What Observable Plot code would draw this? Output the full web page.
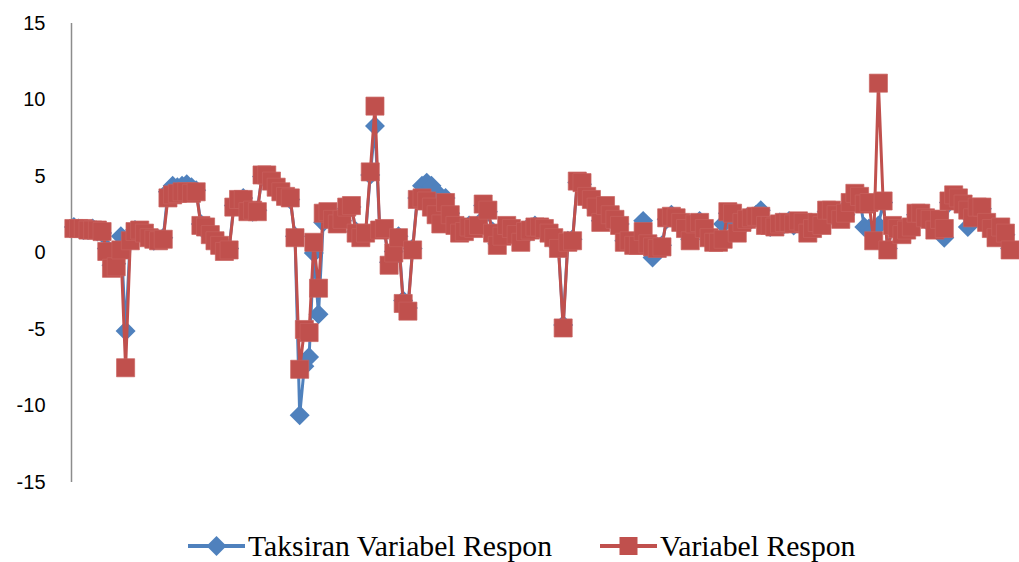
<!DOCTYPE html>
<html>
<head>
<meta charset="utf-8">
<script src="https://cdn.jsdelivr.net/npm/d3@7"></script>
<script src="https://cdn.jsdelivr.net/npm/@observablehq/plot@0.6"></script>
<style>
  html, body { margin: 0; padding: 0; background: #fff; }
  #chart { width: 1019px; height: 562px; position: relative; overflow: hidden; }
  #chart > svg { display: block; }
  .legend {
    display: flex; align-items: center; gap: 48px;
    margin-left: 188px; margin-top: 1px; height: 30px; line-height: 30px;
    font-family: "Liberation Serif", "Times New Roman", serif;
    font-size: 29.7px; color: #000;
  }
  .legend .item { display: flex; align-items: center; height: 30px; }
  .legend svg { display: block; margin-right: 3px; }
</style>
</head>
<body>
<div id="chart"></div>
<script>
// Series names
const seriesNames = ["Taksiran Variabel Respon", "Variabel Respon"];
const seriesColors = ["#4F81BD", "#C0504D"];

// Observed response (Variabel Respon), one value per observation
const observed = [
  1.6, 1.6, 1.6, 1.5, 1.5, 1.5, 1.4, 0.1, -1.0, -0.9,
  0.2, -7.5, 0.8, 1.4, 1.5, 1.3, 1.0, 0.9, 0.8, 0.9,
  3.6, 3.8, 3.9, 4.0, 4.0, 3.9, 4.0, 1.8, 1.7, 1.2,
  0.8, 0.5, 0.1, 0.2, 3.0, 3.5, 3.5, 2.7, 2.8, 2.7,
  5.1, 5.1, 4.7, 4.3, 4.0, 3.7, 3.6, 1.0, -7.6, -5.0,
  -5.2, 0.7, -2.3, 2.6, 2.7, 2.2, 1.9, 2.2, 3.0, 3.1,
  1.3, 1.0, 1.3, 5.3, 9.6, 1.5, 1.6, -0.8, 0.0, 1.0,
  -3.3, -3.8, 0.2, 3.5, 3.6, 3.4, 3.0, 2.5, 1.9, 3.3,
  2.5, 1.8, 1.3, 1.4, 1.7, 1.6, 1.8, 3.2, 2.8, 1.3,
  0.5, 1.1, 1.8, 1.6, 1.2, 0.7, 1.4, 1.5, 1.7, 1.7,
  1.6, 1.3, 1.0, 0.3, -4.9, 0.7, 0.8, 4.7, 4.6, 3.7,
  3.5, 3.0, 2.0, 3.1, 2.5, 2.2, 1.8, 0.7, 0.8, 0.5,
  0.5, 1.4, 0.6, 0.4, 0.3, 0.4, 2.3, 2.4, 2.3, 2.0,
  1.6, 0.8, 1.9, 2.0, 1.6, 1.0, 0.7, 0.7, 0.9, 2.7,
  2.6, 1.3, 2.0, 2.2, 2.3, 2.4, 2.4, 1.8, 1.8, 1.7,
  1.9, 2.0, 2.0, 1.9, 2.1, 2.0, 1.3, 1.6, 2.0, 1.8,
  2.8, 2.8, 2.5, 2.2, 2.6, 3.3, 3.9, 3.7, 3.2, 3.3,
  0.8, 11.1, 3.4, 0.2, 1.8, 1.6, 1.2, 1.5, 1.7, 2.6,
  2.6, 2.3, 2.2, 1.5, 2.2, 1.6, 3.4, 3.8, 3.6, 3.2,
  2.8, 2.3, 3.0, 3.0, 2.0, 1.6, 1.0, 1.7, 1.3, 0.2
];

// Fitted response (Taksiran Variabel Respon)
const fitted = [
  1.7, 1.6, 1.5, 1.5, 1.6, 1.4, 1.3, 0.3, -0.8, -0.7,
  1.1, -5.1, 1.0, 1.5, 1.4, 1.2, 1.1, 0.8, 0.9, 1.0,
  4.0, 4.4, 4.3, 4.4, 4.5, 4.3, 4.1, 1.9, 1.6, 1.1,
  0.9, 0.4, 0.2, 0.3, 3.1, 3.4, 3.6, 2.8, 2.7, 2.8,
  5.0, 5.0, 4.6, 4.4, 3.9, 3.8, 3.5, 1.1, -10.6, -7.4,
  -6.8, 0.0, -4.0, 2.0, 2.6, 2.3, 2.0, 2.1, 2.9, 3.0,
  1.4, 1.1, 1.2, 5.1, 8.3, 1.6, 1.5, -0.6, 0.1, 1.1,
  -3.1, -3.6, 0.3, 3.6, 4.4, 4.6, 4.4, 4.0, 3.5, 3.6,
  2.6, 1.9, 1.4, 1.5, 1.8, 1.7, 1.9, 3.1, 2.7, 1.4,
  0.6, 1.2, 1.7, 1.5, 1.3, 0.8, 1.5, 1.6, 1.8, 1.6,
  1.5, 1.4, 1.1, 0.4, -4.7, 0.8, 0.9, 4.6, 4.5, 3.8,
  3.4, 2.9, 2.1, 3.0, 2.4, 2.1, 1.9, 0.8, 0.7, 0.6,
  0.6, 2.1, 0.7, -0.3, 0.4, 0.5, 2.2, 2.5, 2.2, 1.9,
  1.7, 0.9, 1.8, 2.1, 1.5, 1.1, 0.8, 0.8, 1.9, 2.6,
  2.5, 1.4, 1.9, 2.3, 2.2, 2.5, 2.8, 1.9, 1.7, 1.8,
  2.0, 1.9, 2.1, 1.8, 2.0, 1.9, 1.4, 1.7, 1.9, 1.9,
  2.7, 2.7, 2.4, 2.3, 2.5, 3.2, 3.8, 3.6, 1.7, 1.6,
  1.5, 1.8, 3.3, 0.3, 1.7, 1.5, 1.3, 1.6, 1.8, 2.5,
  2.5, 2.2, 2.1, 1.6, 2.1, 1.0, 3.3, 3.7, 3.5, 3.1,
  1.7, 2.2, 2.9, 2.9, 1.9, 1.5, 1.1, 1.6, 1.2, 0.3
];

// Value-axis ticks
const yTicks = [-15, -10, -5, 0, 5, 10, 15];

const X = (d, i) => i;
const Y = (d) => d;

const svg = Plot.plot({
  width: 1019,
  height: 530,
  marginLeft: 71,
  marginRight: 7,
  marginTop: 23,
  marginBottom: 48,
  style: { background: "white", color: "#000", fontFamily: "'Liberation Sans', Arial, sans-serif", fontSize: "20px" },
  x: { domain: [-0.5, observed.length - 0.5], axis: null },
  y: { domain: [-15, 15], axis: null },
  marks: [
    Plot.axisY({ ticks: yTicks, tickSize: 0, tickPadding: 26, tickFormat: d => String(d), label: null, fontSize: 20 }),
    Plot.ruleX([-0.5], { stroke: "#8c8c8c", strokeWidth: 1.5 }),
    Plot.line(fitted, { x: X, y: Y, stroke: seriesColors[0], strokeWidth: 3, curve: "linear" }),
    Plot.dot(fitted, { x: X, y: Y, symbol: "diamond2", r: 9, fill: seriesColors[0] }),
    Plot.line(observed, { x: X, y: Y, stroke: seriesColors[1], strokeWidth: 3, curve: "linear" }),
    Plot.dot(observed, { x: X, y: Y, symbol: "square", r: 10.2, fill: seriesColors[1], stroke: "#c9615e", strokeWidth: 0.7 })
  ]
});

const chart = document.getElementById("chart");
chart.appendChild(svg);

// Legend below the plot: line swatch with the series marker, then the name
const legend = document.createElement("div");
legend.className = "legend";
seriesNames.forEach((name, k) => {
  const item = document.createElement("div");
  item.className = "item";
  const marker = k === 0
    ? `<path d="M28.5,5 L38.5,15 L28.5,25 L18.5,15 Z" fill="${seriesColors[k]}"/>`
    : `<rect x="19.5" y="6" width="18" height="18" fill="${seriesColors[k]}"/>`;
  item.innerHTML =
    `<svg width="57" height="30" viewBox="0 0 57 30">` +
    `<line x1="0" y1="15" x2="57" y2="15" stroke="${seriesColors[k]}" stroke-width="4"/>` +
    marker + `</svg><span>${name}</span>`;
  legend.appendChild(item);
});
chart.appendChild(legend);
</script>
</body>
</html>
